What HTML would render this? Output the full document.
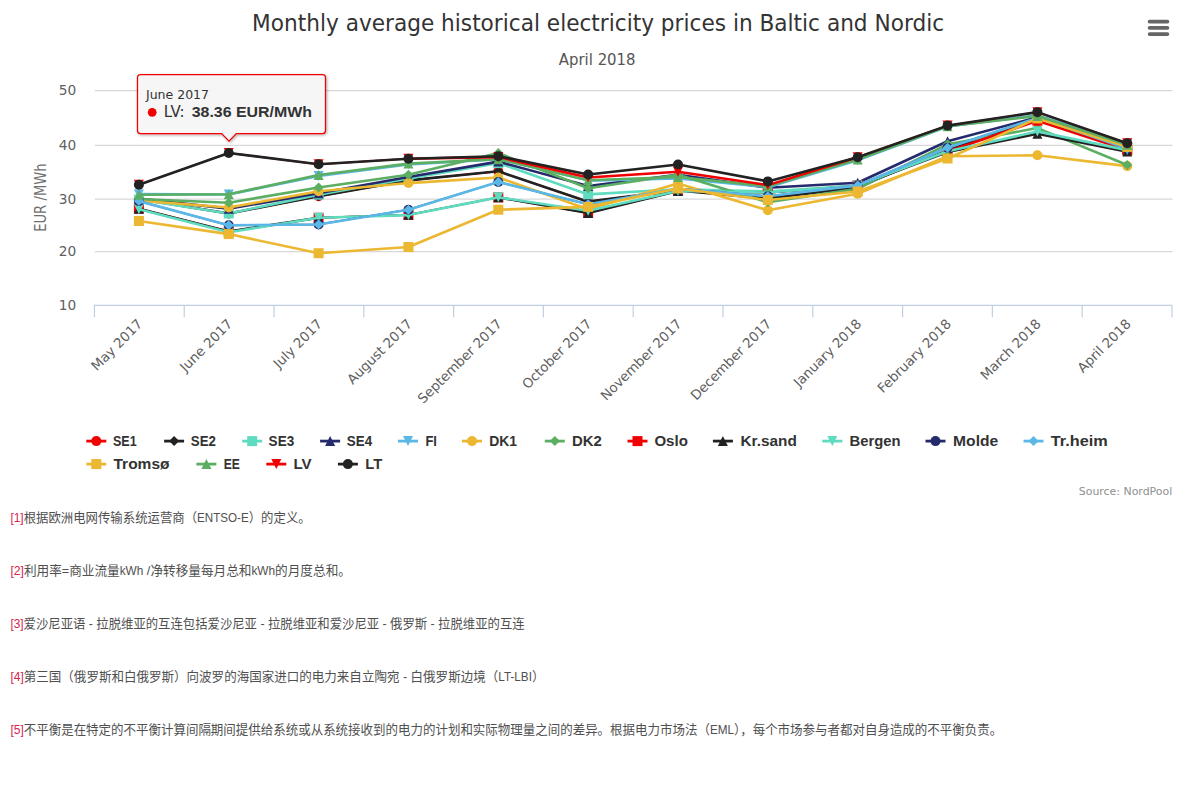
<!DOCTYPE html>
<html lang="zh"><head><meta charset="utf-8"><title>Monthly average historical electricity prices in Baltic and Nordic</title>
<style>html,body{margin:0;padding:0;background:#fff;width:1182px;height:788px;overflow:hidden}</style></head>
<body>
<svg width="1182" height="788" viewBox="0 0 1182 788" style="position:absolute;left:0;top:0;font-family:'DejaVu Sans','Liberation Sans',sans-serif">
<defs><filter id="sh" x="-10%" y="-20%" width="120%" height="150%"><feGaussianBlur in="SourceAlpha" stdDeviation="1.6"/><feOffset dx="1.25" dy="1.25"/><feComponentTransfer><feFuncA type="linear" slope="0.35"/></feComponentTransfer><feMerge><feMergeNode/><feMergeNode in="SourceGraphic"/></feMerge></filter></defs>
<rect width="1182" height="788" fill="#ffffff"/>
<path d="M94.9 90.5L1172.5 90.5" stroke="#d8d8d8" stroke-width="1.25" fill="none"/>
<path d="M94.9 145.3L1172.5 145.3" stroke="#d8d8d8" stroke-width="1.25" fill="none"/>
<path d="M94.9 199.0L1172.5 199.0" stroke="#d8d8d8" stroke-width="1.25" fill="none"/>
<path d="M94.9 251.5L1172.5 251.5" stroke="#d8d8d8" stroke-width="1.25" fill="none"/>
<path d="M93.95 305.45L1172.45 305.45" stroke="#c0d0e0" stroke-width="1.2" fill="none"/>
<path d="M94.45 305.45L94.45 317.3" stroke="#c0d0e0" stroke-width="1.2" fill="none"/>
<path d="M184.24 305.45L184.24 317.3" stroke="#c0d0e0" stroke-width="1.2" fill="none"/>
<path d="M274.03 305.45L274.03 317.3" stroke="#c0d0e0" stroke-width="1.2" fill="none"/>
<path d="M363.82 305.45L363.82 317.3" stroke="#c0d0e0" stroke-width="1.2" fill="none"/>
<path d="M453.62 305.45L453.62 317.3" stroke="#c0d0e0" stroke-width="1.2" fill="none"/>
<path d="M543.41 305.45L543.41 317.3" stroke="#c0d0e0" stroke-width="1.2" fill="none"/>
<path d="M633.20 305.45L633.20 317.3" stroke="#c0d0e0" stroke-width="1.2" fill="none"/>
<path d="M722.99 305.45L722.99 317.3" stroke="#c0d0e0" stroke-width="1.2" fill="none"/>
<path d="M812.78 305.45L812.78 317.3" stroke="#c0d0e0" stroke-width="1.2" fill="none"/>
<path d="M902.58 305.45L902.58 317.3" stroke="#c0d0e0" stroke-width="1.2" fill="none"/>
<path d="M992.37 305.45L992.37 317.3" stroke="#c0d0e0" stroke-width="1.2" fill="none"/>
<path d="M1082.16 305.45L1082.16 317.3" stroke="#c0d0e0" stroke-width="1.2" fill="none"/>
<path d="M1171.95 305.45L1171.95 317.3" stroke="#c0d0e0" stroke-width="1.2" fill="none"/>
<text x="76.2" y="95.3" text-anchor="end" font-size="13.75" fill="#606060">50</text>
<text x="76.2" y="150.1" text-anchor="end" font-size="13.75" fill="#606060">40</text>
<text x="76.2" y="203.8" text-anchor="end" font-size="13.75" fill="#606060">30</text>
<text x="76.2" y="256.3" text-anchor="end" font-size="13.75" fill="#606060">20</text>
<text x="76.2" y="310.1" text-anchor="end" font-size="13.75" fill="#606060">10</text>
<text transform="translate(46.2,197.6) rotate(-90)" text-anchor="middle" font-size="15" fill="#707070" textLength="68.5" lengthAdjust="spacingAndGlyphs">EUR /MWh</text>
<text transform="translate(143.40,324.80) rotate(-45)" text-anchor="end" font-size="13.4" fill="#606060">May 2017</text>
<text transform="translate(233.25,324.80) rotate(-45)" text-anchor="end" font-size="13.4" fill="#606060">June 2017</text>
<text transform="translate(323.10,324.80) rotate(-45)" text-anchor="end" font-size="13.4" fill="#606060">July 2017</text>
<text transform="translate(412.95,324.80) rotate(-45)" text-anchor="end" font-size="13.4" fill="#606060">August 2017</text>
<text transform="translate(502.80,324.80) rotate(-45)" text-anchor="end" font-size="13.4" fill="#606060">September 2017</text>
<text transform="translate(592.65,324.80) rotate(-45)" text-anchor="end" font-size="13.4" fill="#606060">October 2017</text>
<text transform="translate(682.50,324.80) rotate(-45)" text-anchor="end" font-size="13.4" fill="#606060">November 2017</text>
<text transform="translate(772.35,324.80) rotate(-45)" text-anchor="end" font-size="13.4" fill="#606060">December 2017</text>
<text transform="translate(862.20,324.80) rotate(-45)" text-anchor="end" font-size="13.4" fill="#606060">January 2018</text>
<text transform="translate(952.05,324.80) rotate(-45)" text-anchor="end" font-size="13.4" fill="#606060">February 2018</text>
<text transform="translate(1041.90,324.80) rotate(-45)" text-anchor="end" font-size="13.4" fill="#606060">March 2018</text>
<text transform="translate(1131.75,324.80) rotate(-45)" text-anchor="end" font-size="13.4" fill="#606060">April 2018</text>
<text x="598.1" y="30.6" text-anchor="middle" font-size="22.5" fill="#333333" textLength="692" lengthAdjust="spacingAndGlyphs">Monthly average historical electricity prices in Baltic and Nordic</text>
<text x="597.2" y="65.4" text-anchor="middle" font-size="15" fill="#555555" textLength="76.8" lengthAdjust="spacingAndGlyphs">April 2018</text>
<g>
<polyline points="138.90,198.97 228.75,213.47 318.60,196.29 408.45,180.39 498.30,171.32 588.15,201.66 678.00,190.38 767.85,198.44 857.70,187.16 947.55,150.11 1037.40,117.89 1127.25,149.57" fill="none" stroke="#f00000" stroke-width="1.8" stroke-linejoin="round" stroke-linecap="round"/>
<circle cx="138.90" cy="198.97" r="5.0" fill="#f00000"/>
<circle cx="228.75" cy="213.47" r="5.0" fill="#f00000"/>
<circle cx="318.60" cy="196.29" r="5.0" fill="#f00000"/>
<circle cx="408.45" cy="180.39" r="5.0" fill="#f00000"/>
<circle cx="498.30" cy="171.32" r="5.0" fill="#f00000"/>
<circle cx="588.15" cy="201.66" r="5.0" fill="#f00000"/>
<circle cx="678.00" cy="190.38" r="5.0" fill="#f00000"/>
<circle cx="767.85" cy="198.44" r="5.0" fill="#f00000"/>
<circle cx="857.70" cy="187.16" r="5.0" fill="#f00000"/>
<circle cx="947.55" cy="150.11" r="5.0" fill="#f00000"/>
<circle cx="1037.40" cy="117.89" r="5.0" fill="#f00000"/>
<circle cx="1127.25" cy="149.57" r="5.0" fill="#f00000"/>
</g>
<g>
<polyline points="138.90,198.97 228.75,213.47 318.60,196.29 408.45,180.39 498.30,171.32 588.15,201.66 678.00,190.38 767.85,198.44 857.70,187.16 947.55,150.11 1037.40,117.89" fill="none" stroke="#222222" stroke-width="2.6" stroke-linejoin="round" stroke-linecap="round"/>
<polyline points="1037.40,117.89 1127.25,149.57" fill="none" stroke="#222222" stroke-width="1.8" stroke-linejoin="round" stroke-linecap="round"/>
<path d="M138.90 193.97L143.90 198.97L138.90 203.97L133.90 198.97Z" fill="#222222"/>
<path d="M228.75 208.47L233.75 213.47L228.75 218.47L223.75 213.47Z" fill="#222222"/>
<path d="M318.60 191.29L323.60 196.29L318.60 201.29L313.60 196.29Z" fill="#222222"/>
<path d="M408.45 175.39L413.45 180.39L408.45 185.39L403.45 180.39Z" fill="#222222"/>
<path d="M498.30 166.32L503.30 171.32L498.30 176.32L493.30 171.32Z" fill="#222222"/>
<path d="M588.15 196.66L593.15 201.66L588.15 206.66L583.15 201.66Z" fill="#222222"/>
<path d="M678.00 185.38L683.00 190.38L678.00 195.38L673.00 190.38Z" fill="#222222"/>
<path d="M767.85 193.44L772.85 198.44L767.85 203.44L762.85 198.44Z" fill="#222222"/>
<path d="M857.70 182.16L862.70 187.16L857.70 192.16L852.70 187.16Z" fill="#222222"/>
<path d="M947.55 145.11L952.55 150.11L947.55 155.11L942.55 150.11Z" fill="#222222"/>
<path d="M1037.40 112.89L1042.40 117.89L1037.40 122.89L1032.40 117.89Z" fill="#222222"/>
<path d="M1127.25 144.57L1132.25 149.57L1127.25 154.57L1122.25 149.57Z" fill="#222222"/>
</g>
<g>
<polyline points="138.90,199.51 228.75,213.47 318.60,194.68 408.45,178.57 498.30,163.10 588.15,194.41 678.00,189.31 767.85,191.46 857.70,185.55" fill="none" stroke="#5fdcc0" stroke-width="2.6" stroke-linejoin="round" stroke-linecap="round"/>
<polyline points="857.70,185.55 947.55,147.96 1037.40,117.89" fill="none" stroke="#5fdcc0" stroke-width="1.8" stroke-linejoin="round" stroke-linecap="round"/>
<polyline points="1037.40,117.89 1127.25,149.57" fill="none" stroke="#5fdcc0" stroke-width="2.6" stroke-linejoin="round" stroke-linecap="round"/>
<rect x="133.90" y="194.51" width="10.0" height="10.0" fill="#5fdcc0"/>
<rect x="223.75" y="208.47" width="10.0" height="10.0" fill="#5fdcc0"/>
<rect x="313.60" y="189.68" width="10.0" height="10.0" fill="#5fdcc0"/>
<rect x="403.45" y="173.57" width="10.0" height="10.0" fill="#5fdcc0"/>
<rect x="493.30" y="158.10" width="10.0" height="10.0" fill="#5fdcc0"/>
<rect x="583.15" y="189.41" width="10.0" height="10.0" fill="#5fdcc0"/>
<rect x="673.00" y="184.31" width="10.0" height="10.0" fill="#5fdcc0"/>
<rect x="762.85" y="186.46" width="10.0" height="10.0" fill="#5fdcc0"/>
<rect x="852.70" y="180.55" width="10.0" height="10.0" fill="#5fdcc0"/>
<rect x="942.55" y="142.96" width="10.0" height="10.0" fill="#5fdcc0"/>
<rect x="1032.40" y="112.89" width="10.0" height="10.0" fill="#5fdcc0"/>
<rect x="1122.25" y="144.57" width="10.0" height="10.0" fill="#5fdcc0"/>
</g>
<g>
<polyline points="138.90,198.44 228.75,208.64 318.60,193.34 408.45,176.96 498.30,161.60 588.15,186.09 678.00,174.81 767.85,187.70 857.70,182.70 947.55,141.30 1037.40,117.35 1127.25,149.03" fill="none" stroke="#242a6b" stroke-width="2.6" stroke-linejoin="round" stroke-linecap="round"/>
<path d="M138.90 193.44L143.90 203.44L133.90 203.44Z" fill="#242a6b"/>
<path d="M228.75 203.64L233.75 213.64L223.75 213.64Z" fill="#242a6b"/>
<path d="M318.60 188.34L323.60 198.34L313.60 198.34Z" fill="#242a6b"/>
<path d="M408.45 171.96L413.45 181.96L403.45 181.96Z" fill="#242a6b"/>
<path d="M498.30 156.60L503.30 166.60L493.30 166.60Z" fill="#242a6b"/>
<path d="M588.15 181.09L593.15 191.09L583.15 191.09Z" fill="#242a6b"/>
<path d="M678.00 169.81L683.00 179.81L673.00 179.81Z" fill="#242a6b"/>
<path d="M767.85 182.70L772.85 192.70L762.85 192.70Z" fill="#242a6b"/>
<path d="M857.70 177.70L862.70 187.70L852.70 187.70Z" fill="#242a6b"/>
<path d="M947.55 136.30L952.55 146.30L942.55 146.30Z" fill="#242a6b"/>
<path d="M1037.40 112.35L1042.40 122.35L1032.40 122.35Z" fill="#242a6b"/>
<path d="M1127.25 144.03L1132.25 154.03L1122.25 154.03Z" fill="#242a6b"/>
</g>
<g>
<polyline points="138.90,194.14 228.75,194.52 318.60,175.88 408.45,164.34 498.30,159.24" fill="none" stroke="#5bb8e6" stroke-width="2.6" stroke-linejoin="round" stroke-linecap="round"/>
<polyline points="498.30,159.24 588.15,180.72" fill="none" stroke="#5bb8e6" stroke-width="1.8" stroke-linejoin="round" stroke-linecap="round"/>
<polyline points="588.15,180.72 678.00,178.57 767.85,187.16 857.70,160.31 947.55,126.48 1037.40,115.20 1127.25,143.66" fill="none" stroke="#5bb8e6" stroke-width="2.6" stroke-linejoin="round" stroke-linecap="round"/>
<path d="M133.90 189.14L143.90 189.14L138.90 199.14Z" fill="#5bb8e6"/>
<path d="M223.75 189.52L233.75 189.52L228.75 199.52Z" fill="#5bb8e6"/>
<path d="M313.60 170.88L323.60 170.88L318.60 180.88Z" fill="#5bb8e6"/>
<path d="M403.45 159.34L413.45 159.34L408.45 169.34Z" fill="#5bb8e6"/>
<path d="M493.30 154.24L503.30 154.24L498.30 164.24Z" fill="#5bb8e6"/>
<path d="M583.15 175.72L593.15 175.72L588.15 185.72Z" fill="#5bb8e6"/>
<path d="M673.00 173.57L683.00 173.57L678.00 183.57Z" fill="#5bb8e6"/>
<path d="M762.85 182.16L772.85 182.16L767.85 192.16Z" fill="#5bb8e6"/>
<path d="M852.70 155.31L862.70 155.31L857.70 165.31Z" fill="#5bb8e6"/>
<path d="M942.55 121.48L952.55 121.48L947.55 131.48Z" fill="#5bb8e6"/>
<path d="M1032.40 110.20L1042.40 110.20L1037.40 120.20Z" fill="#5bb8e6"/>
<path d="M1122.25 138.66L1132.25 138.66L1127.25 148.66Z" fill="#5bb8e6"/>
</g>
<g>
<polyline points="138.90,200.59 228.75,207.57 318.60,191.19 408.45,183.08 498.30,177.49 588.15,209.18 678.00,183.40 767.85,210.30 857.70,193.71 947.55,156.28 1037.40,155.21 1127.25,166.11" fill="none" stroke="#ecb731" stroke-width="2.6" stroke-linejoin="round" stroke-linecap="round"/>
<circle cx="138.90" cy="200.59" r="5.0" fill="#ecb731"/>
<circle cx="228.75" cy="207.57" r="5.0" fill="#ecb731"/>
<circle cx="318.60" cy="191.19" r="5.0" fill="#ecb731"/>
<circle cx="408.45" cy="183.08" r="5.0" fill="#ecb731"/>
<circle cx="498.30" cy="177.49" r="5.0" fill="#ecb731"/>
<circle cx="588.15" cy="209.18" r="5.0" fill="#ecb731"/>
<circle cx="678.00" cy="183.40" r="5.0" fill="#ecb731"/>
<circle cx="767.85" cy="210.30" r="5.0" fill="#ecb731"/>
<circle cx="857.70" cy="193.71" r="5.0" fill="#ecb731"/>
<circle cx="947.55" cy="156.28" r="5.0" fill="#ecb731"/>
<circle cx="1037.40" cy="155.21" r="5.0" fill="#ecb731"/>
<circle cx="1127.25" cy="166.11" r="5.0" fill="#ecb731"/>
</g>
<g>
<polyline points="138.90,198.97 228.75,202.73 318.60,187.43 408.45,174.81 498.30,153.01 588.15,188.23 678.00,174.81 767.85,202.20 857.70,188.77 947.55,144.31 1037.40,128.09 1127.25,164.98" fill="none" stroke="#5bae62" stroke-width="2.6" stroke-linejoin="round" stroke-linecap="round"/>
<path d="M138.90 193.97L143.90 198.97L138.90 203.97L133.90 198.97Z" fill="#5bae62"/>
<path d="M228.75 197.73L233.75 202.73L228.75 207.73L223.75 202.73Z" fill="#5bae62"/>
<path d="M318.60 182.43L323.60 187.43L318.60 192.43L313.60 187.43Z" fill="#5bae62"/>
<path d="M408.45 169.81L413.45 174.81L408.45 179.81L403.45 174.81Z" fill="#5bae62"/>
<path d="M498.30 148.01L503.30 153.01L498.30 158.01L493.30 153.01Z" fill="#5bae62"/>
<path d="M588.15 183.23L593.15 188.23L588.15 193.23L583.15 188.23Z" fill="#5bae62"/>
<path d="M678.00 169.81L683.00 174.81L678.00 179.81L673.00 174.81Z" fill="#5bae62"/>
<path d="M767.85 197.20L772.85 202.20L767.85 207.20L762.85 202.20Z" fill="#5bae62"/>
<path d="M857.70 183.77L862.70 188.77L857.70 193.77L852.70 188.77Z" fill="#5bae62"/>
<path d="M947.55 139.31L952.55 144.31L947.55 149.31L942.55 144.31Z" fill="#5bae62"/>
<path d="M1037.40 123.09L1042.40 128.09L1037.40 133.09L1032.40 128.09Z" fill="#5bae62"/>
<path d="M1127.25 159.98L1132.25 164.98L1127.25 169.98L1122.25 164.98Z" fill="#5bae62"/>
</g>
<g>
<polyline points="138.90,208.64 228.75,231.46 318.60,217.77 408.45,214.82 498.30,197.36 588.15,212.94 678.00,190.92 767.85,192.80 857.70,185.39 947.55,151.50" fill="none" stroke="#f00000" stroke-width="1.8" stroke-linejoin="round" stroke-linecap="round"/>
<polyline points="947.55,151.50 1037.40,120.73 1127.25,150.11" fill="none" stroke="#f00000" stroke-width="2.6" stroke-linejoin="round" stroke-linecap="round"/>
<rect x="133.90" y="203.64" width="10.0" height="10.0" fill="#f00000"/>
<rect x="223.75" y="226.46" width="10.0" height="10.0" fill="#f00000"/>
<rect x="313.60" y="212.77" width="10.0" height="10.0" fill="#f00000"/>
<rect x="403.45" y="209.82" width="10.0" height="10.0" fill="#f00000"/>
<rect x="493.30" y="192.36" width="10.0" height="10.0" fill="#f00000"/>
<rect x="583.15" y="207.94" width="10.0" height="10.0" fill="#f00000"/>
<rect x="673.00" y="185.92" width="10.0" height="10.0" fill="#f00000"/>
<rect x="762.85" y="187.80" width="10.0" height="10.0" fill="#f00000"/>
<rect x="852.70" y="180.39" width="10.0" height="10.0" fill="#f00000"/>
<rect x="942.55" y="146.50" width="10.0" height="10.0" fill="#f00000"/>
<rect x="1032.40" y="115.73" width="10.0" height="10.0" fill="#f00000"/>
<rect x="1122.25" y="145.11" width="10.0" height="10.0" fill="#f00000"/>
</g>
<g>
<polyline points="138.90,208.64 228.75,231.46 318.60,217.77" fill="none" stroke="#222222" stroke-width="2.6" stroke-linejoin="round" stroke-linecap="round"/>
<polyline points="318.60,217.77 408.45,214.82 498.30,197.36" fill="none" stroke="#222222" stroke-width="1.8" stroke-linejoin="round" stroke-linecap="round"/>
<polyline points="498.30,197.36 588.15,212.94 678.00,190.92" fill="none" stroke="#222222" stroke-width="2.6" stroke-linejoin="round" stroke-linecap="round"/>
<polyline points="678.00,190.92 767.85,192.80 857.70,185.55" fill="none" stroke="#222222" stroke-width="1.8" stroke-linejoin="round" stroke-linecap="round"/>
<polyline points="857.70,185.55 947.55,151.99 1037.40,133.78 1127.25,151.61" fill="none" stroke="#222222" stroke-width="2.6" stroke-linejoin="round" stroke-linecap="round"/>
<path d="M138.90 203.64L143.90 213.64L133.90 213.64Z" fill="#222222"/>
<path d="M228.75 226.46L233.75 236.46L223.75 236.46Z" fill="#222222"/>
<path d="M318.60 212.77L323.60 222.77L313.60 222.77Z" fill="#222222"/>
<path d="M408.45 209.82L413.45 219.82L403.45 219.82Z" fill="#222222"/>
<path d="M498.30 192.36L503.30 202.36L493.30 202.36Z" fill="#222222"/>
<path d="M588.15 207.94L593.15 217.94L583.15 217.94Z" fill="#222222"/>
<path d="M678.00 185.92L683.00 195.92L673.00 195.92Z" fill="#222222"/>
<path d="M767.85 187.80L772.85 197.80L762.85 197.80Z" fill="#222222"/>
<path d="M857.70 180.55L862.70 190.55L852.70 190.55Z" fill="#222222"/>
<path d="M947.55 146.99L952.55 156.99L942.55 156.99Z" fill="#222222"/>
<path d="M1037.40 128.78L1042.40 138.78L1032.40 138.78Z" fill="#222222"/>
<path d="M1127.25 146.61L1132.25 156.61L1122.25 156.61Z" fill="#222222"/>
</g>
<g>
<polyline points="138.90,209.18 228.75,232.27 318.60,217.77 408.45,215.08 498.30,197.36 588.15,210.79 678.00,190.92 767.85,192.53 857.70,185.55 947.55,151.18 1037.40,131.58 1127.25,150.11" fill="none" stroke="#5fdcc0" stroke-width="2.6" stroke-linejoin="round" stroke-linecap="round"/>
<path d="M133.90 204.18L143.90 204.18L138.90 214.18Z" fill="#5fdcc0"/>
<path d="M223.75 227.27L233.75 227.27L228.75 237.27Z" fill="#5fdcc0"/>
<path d="M313.60 212.77L323.60 212.77L318.60 222.77Z" fill="#5fdcc0"/>
<path d="M403.45 210.08L413.45 210.08L408.45 220.08Z" fill="#5fdcc0"/>
<path d="M493.30 192.36L503.30 192.36L498.30 202.36Z" fill="#5fdcc0"/>
<path d="M583.15 205.79L593.15 205.79L588.15 215.79Z" fill="#5fdcc0"/>
<path d="M673.00 185.92L683.00 185.92L678.00 195.92Z" fill="#5fdcc0"/>
<path d="M762.85 187.53L772.85 187.53L767.85 197.53Z" fill="#5fdcc0"/>
<path d="M852.70 180.55L862.70 180.55L857.70 190.55Z" fill="#5fdcc0"/>
<path d="M942.55 146.18L952.55 146.18L947.55 156.18Z" fill="#5fdcc0"/>
<path d="M1032.40 126.58L1042.40 126.58L1037.40 136.58Z" fill="#5fdcc0"/>
<path d="M1122.25 145.11L1132.25 145.11L1127.25 155.11Z" fill="#5fdcc0"/>
</g>
<g>
<polyline points="138.90,201.12 228.75,225.29 318.60,224.48 408.45,209.71 498.30,182.00 588.15,204.34 678.00,188.77 767.85,196.29 857.70,185.39 947.55,147.69 1037.40,117.89 1127.25,148.60" fill="none" stroke="#242a6b" stroke-width="1.8" stroke-linejoin="round" stroke-linecap="round"/>
<circle cx="138.90" cy="201.12" r="5.0" fill="#242a6b"/>
<circle cx="228.75" cy="225.29" r="5.0" fill="#242a6b"/>
<circle cx="318.60" cy="224.48" r="5.0" fill="#242a6b"/>
<circle cx="408.45" cy="209.71" r="5.0" fill="#242a6b"/>
<circle cx="498.30" cy="182.00" r="5.0" fill="#242a6b"/>
<circle cx="588.15" cy="204.34" r="5.0" fill="#242a6b"/>
<circle cx="678.00" cy="188.77" r="5.0" fill="#242a6b"/>
<circle cx="767.85" cy="196.29" r="5.0" fill="#242a6b"/>
<circle cx="857.70" cy="185.39" r="5.0" fill="#242a6b"/>
<circle cx="947.55" cy="147.69" r="5.0" fill="#242a6b"/>
<circle cx="1037.40" cy="117.89" r="5.0" fill="#242a6b"/>
<circle cx="1127.25" cy="148.60" r="5.0" fill="#242a6b"/>
</g>
<g>
<polyline points="138.90,201.12 228.75,225.29 318.60,224.48 408.45,209.71 498.30,182.00 588.15,204.34 678.00,188.77 767.85,196.29 857.70,185.39 947.55,147.69 1037.40,117.89 1127.25,148.60" fill="none" stroke="#5bb8e6" stroke-width="2.6" stroke-linejoin="round" stroke-linecap="round"/>
<path d="M138.90 196.12L143.90 201.12L138.90 206.12L133.90 201.12Z" fill="#5bb8e6"/>
<path d="M228.75 220.29L233.75 225.29L228.75 230.29L223.75 225.29Z" fill="#5bb8e6"/>
<path d="M318.60 219.48L323.60 224.48L318.60 229.48L313.60 224.48Z" fill="#5bb8e6"/>
<path d="M408.45 204.71L413.45 209.71L408.45 214.71L403.45 209.71Z" fill="#5bb8e6"/>
<path d="M498.30 177.00L503.30 182.00L498.30 187.00L493.30 182.00Z" fill="#5bb8e6"/>
<path d="M588.15 199.34L593.15 204.34L588.15 209.34L583.15 204.34Z" fill="#5bb8e6"/>
<path d="M678.00 183.77L683.00 188.77L678.00 193.77L673.00 188.77Z" fill="#5bb8e6"/>
<path d="M767.85 191.29L772.85 196.29L767.85 201.29L762.85 196.29Z" fill="#5bb8e6"/>
<path d="M857.70 180.39L862.70 185.39L857.70 190.39L852.70 185.39Z" fill="#5bb8e6"/>
<path d="M947.55 142.69L952.55 147.69L947.55 152.69L942.55 147.69Z" fill="#5bb8e6"/>
<path d="M1037.40 112.89L1042.40 117.89L1037.40 122.89L1032.40 117.89Z" fill="#5bb8e6"/>
<path d="M1127.25 143.60L1132.25 148.60L1127.25 153.60L1122.25 148.60Z" fill="#5bb8e6"/>
</g>
<g>
<polyline points="138.90,220.99 228.75,234.09 318.60,253.21 408.45,247.04 498.30,209.71 588.15,206.87 678.00,188.50 767.85,200.05 857.70,191.46 947.55,158.48 1037.40,118.42 1127.25,146.88" fill="none" stroke="#ecb731" stroke-width="2.6" stroke-linejoin="round" stroke-linecap="round"/>
<rect x="133.90" y="215.99" width="10.0" height="10.0" fill="#ecb731"/>
<rect x="223.75" y="229.09" width="10.0" height="10.0" fill="#ecb731"/>
<rect x="313.60" y="248.21" width="10.0" height="10.0" fill="#ecb731"/>
<rect x="403.45" y="242.04" width="10.0" height="10.0" fill="#ecb731"/>
<rect x="493.30" y="204.71" width="10.0" height="10.0" fill="#ecb731"/>
<rect x="583.15" y="201.87" width="10.0" height="10.0" fill="#ecb731"/>
<rect x="673.00" y="183.50" width="10.0" height="10.0" fill="#ecb731"/>
<rect x="762.85" y="195.05" width="10.0" height="10.0" fill="#ecb731"/>
<rect x="852.70" y="186.46" width="10.0" height="10.0" fill="#ecb731"/>
<rect x="942.55" y="153.48" width="10.0" height="10.0" fill="#ecb731"/>
<rect x="1032.40" y="113.42" width="10.0" height="10.0" fill="#ecb731"/>
<rect x="1122.25" y="141.88" width="10.0" height="10.0" fill="#ecb731"/>
</g>
<g>
<polyline points="138.90,194.68 228.75,194.19 318.60,175.08 408.45,163.59 498.30,159.24 588.15,180.29 678.00,176.96 767.85,186.30 857.70,159.61 947.55,126.32 1037.40,116.01 1127.25,144.74" fill="none" stroke="#5bae62" stroke-width="2.6" stroke-linejoin="round" stroke-linecap="round"/>
<path d="M138.90 189.68L143.90 199.68L133.90 199.68Z" fill="#5bae62"/>
<path d="M228.75 189.19L233.75 199.19L223.75 199.19Z" fill="#5bae62"/>
<path d="M318.60 170.08L323.60 180.08L313.60 180.08Z" fill="#5bae62"/>
<path d="M408.45 158.59L413.45 168.59L403.45 168.59Z" fill="#5bae62"/>
<path d="M498.30 154.24L503.30 164.24L493.30 164.24Z" fill="#5bae62"/>
<path d="M588.15 175.29L593.15 185.29L583.15 185.29Z" fill="#5bae62"/>
<path d="M678.00 171.96L683.00 181.96L673.00 181.96Z" fill="#5bae62"/>
<path d="M767.85 181.30L772.85 191.30L762.85 191.30Z" fill="#5bae62"/>
<path d="M857.70 154.61L862.70 164.61L852.70 164.61Z" fill="#5bae62"/>
<path d="M947.55 121.32L952.55 131.32L942.55 131.32Z" fill="#5bae62"/>
<path d="M1037.40 111.01L1042.40 121.01L1032.40 121.01Z" fill="#5bae62"/>
<path d="M1127.25 139.74L1132.25 149.74L1122.25 149.74Z" fill="#5bae62"/>
</g>
<g>
<polyline points="138.90,184.74 228.75,153.01 318.60,164.28 408.45,158.70" fill="none" stroke="#f00000" stroke-width="1.8" stroke-linejoin="round" stroke-linecap="round"/>
<polyline points="408.45,158.70 498.30,157.09 588.15,177.49 678.00,171.69 767.85,185.12 857.70,157.20" fill="none" stroke="#f00000" stroke-width="2.6" stroke-linejoin="round" stroke-linecap="round"/>
<polyline points="857.70,157.20 947.55,125.62 1037.40,112.14 1127.25,143.29" fill="none" stroke="#f00000" stroke-width="1.8" stroke-linejoin="round" stroke-linecap="round"/>
<path d="M133.90 179.74L143.90 179.74L138.90 189.74Z" fill="#f00000"/>
<path d="M223.75 148.01L233.75 148.01L228.75 158.01Z" fill="#f00000"/>
<path d="M313.60 159.28L323.60 159.28L318.60 169.28Z" fill="#f00000"/>
<path d="M403.45 153.70L413.45 153.70L408.45 163.70Z" fill="#f00000"/>
<path d="M493.30 152.09L503.30 152.09L498.30 162.09Z" fill="#f00000"/>
<path d="M583.15 172.49L593.15 172.49L588.15 182.49Z" fill="#f00000"/>
<path d="M673.00 166.69L683.00 166.69L678.00 176.69Z" fill="#f00000"/>
<path d="M762.85 180.12L772.85 180.12L767.85 190.12Z" fill="#f00000"/>
<path d="M852.70 152.20L862.70 152.20L857.70 162.20Z" fill="#f00000"/>
<path d="M942.55 120.62L952.55 120.62L947.55 130.62Z" fill="#f00000"/>
<path d="M1032.40 107.14L1042.40 107.14L1037.40 117.14Z" fill="#f00000"/>
<path d="M1122.25 138.29L1132.25 138.29L1127.25 148.29Z" fill="#f00000"/>
</g>
<g>
<polyline points="138.90,184.74 228.75,153.01 318.60,164.28 408.45,158.70 498.30,156.18 588.15,174.49 678.00,164.50 767.85,181.41 857.70,157.20 947.55,125.62 1037.40,112.14 1127.25,143.29" fill="none" stroke="#222222" stroke-width="2.6" stroke-linejoin="round" stroke-linecap="round"/>
<circle cx="138.90" cy="184.74" r="5.0" fill="#222222"/>
<circle cx="228.75" cy="153.01" r="5.0" fill="#222222"/>
<circle cx="318.60" cy="164.28" r="5.0" fill="#222222"/>
<circle cx="408.45" cy="158.70" r="5.0" fill="#222222"/>
<circle cx="498.30" cy="156.18" r="5.0" fill="#222222"/>
<circle cx="588.15" cy="174.49" r="5.0" fill="#222222"/>
<circle cx="678.00" cy="164.50" r="5.0" fill="#222222"/>
<circle cx="767.85" cy="181.41" r="5.0" fill="#222222"/>
<circle cx="857.70" cy="157.20" r="5.0" fill="#222222"/>
<circle cx="947.55" cy="125.62" r="5.0" fill="#222222"/>
<circle cx="1037.40" cy="112.14" r="5.0" fill="#222222"/>
<circle cx="1127.25" cy="143.29" r="5.0" fill="#222222"/>
</g>
<path d="M1149.6 21.6L1167.4 21.6" stroke="#666666" stroke-width="3.75" stroke-linecap="round"/>
<path d="M1149.6 27.85L1167.4 27.85" stroke="#666666" stroke-width="3.75" stroke-linecap="round"/>
<path d="M1149.6 34.1L1167.4 34.1" stroke="#666666" stroke-width="3.75" stroke-linecap="round"/>
<path d="M86.3 441.1L106.3 441.1" stroke="#f00000" stroke-width="2.8" fill="none"/>
<circle cx="96.30" cy="441.10" r="5.0" fill="#f00000"/>
<text x="113.0" y="445.8" font-size="15" font-weight="bold" font-family="'Liberation Sans','DejaVu Sans',sans-serif" fill="#333333" textLength="23.7" lengthAdjust="spacingAndGlyphs">SE1</text>
<path d="M164.1 441.1L184.1 441.1" stroke="#222222" stroke-width="2.8" fill="none"/>
<path d="M174.10 436.10L179.10 441.10L174.10 446.10L169.10 441.10Z" fill="#222222"/>
<text x="190.8" y="445.8" font-size="15" font-weight="bold" font-family="'Liberation Sans','DejaVu Sans',sans-serif" fill="#333333" textLength="25.1" lengthAdjust="spacingAndGlyphs">SE2</text>
<path d="M242.2 441.1L262.2 441.1" stroke="#5fdcc0" stroke-width="2.8" fill="none"/>
<rect x="247.20" y="436.10" width="10.0" height="10.0" fill="#5fdcc0"/>
<text x="268.6" y="445.8" font-size="15" font-weight="bold" font-family="'Liberation Sans','DejaVu Sans',sans-serif" fill="#333333" textLength="25.6" lengthAdjust="spacingAndGlyphs">SE3</text>
<path d="M320.1 441.1L340.1 441.1" stroke="#242a6b" stroke-width="2.8" fill="none"/>
<path d="M330.10 436.10L335.10 446.10L325.10 446.10Z" fill="#242a6b"/>
<text x="346.8" y="445.8" font-size="15" font-weight="bold" font-family="'Liberation Sans','DejaVu Sans',sans-serif" fill="#333333" textLength="25.3" lengthAdjust="spacingAndGlyphs">SE4</text>
<path d="M398.0 441.1L418.0 441.1" stroke="#5bb8e6" stroke-width="2.8" fill="none"/>
<path d="M403.00 436.10L413.00 436.10L408.00 446.10Z" fill="#5bb8e6"/>
<text x="425.4" y="445.8" font-size="15" font-weight="bold" font-family="'Liberation Sans','DejaVu Sans',sans-serif" fill="#333333" textLength="11.5" lengthAdjust="spacingAndGlyphs">FI</text>
<path d="M462.0 441.1L482.0 441.1" stroke="#ecb731" stroke-width="2.8" fill="none"/>
<circle cx="472.00" cy="441.10" r="5.0" fill="#ecb731"/>
<text x="489.2" y="445.8" font-size="15" font-weight="bold" font-family="'Liberation Sans','DejaVu Sans',sans-serif" fill="#333333" textLength="27.8" lengthAdjust="spacingAndGlyphs">DK1</text>
<path d="M544.8 441.1L564.8 441.1" stroke="#5bae62" stroke-width="2.8" fill="none"/>
<path d="M554.80 436.10L559.80 441.10L554.80 446.10L549.80 441.10Z" fill="#5bae62"/>
<text x="572.0" y="445.8" font-size="15" font-weight="bold" font-family="'Liberation Sans','DejaVu Sans',sans-serif" fill="#333333" textLength="29.8" lengthAdjust="spacingAndGlyphs">DK2</text>
<path d="M627.5 441.1L647.5 441.1" stroke="#f00000" stroke-width="2.8" fill="none"/>
<rect x="632.50" y="436.10" width="10.0" height="10.0" fill="#f00000"/>
<text x="654.4" y="445.8" font-size="15" font-weight="bold" font-family="'Liberation Sans','DejaVu Sans',sans-serif" fill="#333333" textLength="33.5" lengthAdjust="spacingAndGlyphs">Oslo</text>
<path d="M712.9 441.1L732.9 441.1" stroke="#222222" stroke-width="2.8" fill="none"/>
<path d="M722.90 436.10L727.90 446.10L717.90 446.10Z" fill="#222222"/>
<text x="740.5" y="445.8" font-size="15" font-weight="bold" font-family="'Liberation Sans','DejaVu Sans',sans-serif" fill="#333333" textLength="56.3" lengthAdjust="spacingAndGlyphs">Kr.sand</text>
<path d="M822.3 441.1L842.3 441.1" stroke="#5fdcc0" stroke-width="2.8" fill="none"/>
<path d="M827.30 436.10L837.30 436.10L832.30 446.10Z" fill="#5fdcc0"/>
<text x="849.5" y="445.8" font-size="15" font-weight="bold" font-family="'Liberation Sans','DejaVu Sans',sans-serif" fill="#333333" textLength="51" lengthAdjust="spacingAndGlyphs">Bergen</text>
<path d="M925.5 441.1L945.5 441.1" stroke="#242a6b" stroke-width="2.8" fill="none"/>
<circle cx="935.50" cy="441.10" r="5.0" fill="#242a6b"/>
<text x="953.1" y="445.8" font-size="15" font-weight="bold" font-family="'Liberation Sans','DejaVu Sans',sans-serif" fill="#333333" textLength="45.1" lengthAdjust="spacingAndGlyphs">Molde</text>
<path d="M1023.5 441.1L1043.5 441.1" stroke="#5bb8e6" stroke-width="2.8" fill="none"/>
<path d="M1033.50 436.10L1038.50 441.10L1033.50 446.10L1028.50 441.10Z" fill="#5bb8e6"/>
<text x="1050.7" y="445.8" font-size="15" font-weight="bold" font-family="'Liberation Sans','DejaVu Sans',sans-serif" fill="#333333" textLength="57" lengthAdjust="spacingAndGlyphs">Tr.heim</text>
<path d="M86.3 464.1L106.3 464.1" stroke="#ecb731" stroke-width="2.8" fill="none"/>
<rect x="91.30" y="459.10" width="10.0" height="10.0" fill="#ecb731"/>
<text x="113.5" y="468.8" font-size="15" font-weight="bold" font-family="'Liberation Sans','DejaVu Sans',sans-serif" fill="#333333" textLength="56" lengthAdjust="spacingAndGlyphs">Tromsø</text>
<path d="M196.4 464.1L216.4 464.1" stroke="#5bae62" stroke-width="2.8" fill="none"/>
<path d="M206.40 459.10L211.40 469.10L201.40 469.10Z" fill="#5bae62"/>
<text x="223.8" y="468.8" font-size="15" font-weight="bold" font-family="'Liberation Sans','DejaVu Sans',sans-serif" fill="#333333" textLength="16.1" lengthAdjust="spacingAndGlyphs">EE</text>
<path d="M266.3 464.1L286.3 464.1" stroke="#f00000" stroke-width="2.8" fill="none"/>
<path d="M271.30 459.10L281.30 459.10L276.30 469.10Z" fill="#f00000"/>
<text x="293.5" y="468.8" font-size="15" font-weight="bold" font-family="'Liberation Sans','DejaVu Sans',sans-serif" fill="#333333" textLength="18.2" lengthAdjust="spacingAndGlyphs">LV</text>
<path d="M337.9 464.1L357.9 464.1" stroke="#222222" stroke-width="2.8" fill="none"/>
<circle cx="347.90" cy="464.10" r="5.0" fill="#222222"/>
<text x="365.3" y="468.8" font-size="15" font-weight="bold" font-family="'Liberation Sans','DejaVu Sans',sans-serif" fill="#333333" textLength="17" lengthAdjust="spacingAndGlyphs">LT</text>
<text x="1172.2" y="494.6" text-anchor="end" font-size="11.25" fill="#909090" textLength="93.4" lengthAdjust="spacingAndGlyphs">Source: NordPool</text>
<g filter="url(#sh)"><path d="M140.5 74.5L322.5 74.5Q325.5 74.5 325.5 77.5L325.5 130.5Q325.5 133.5 322.5 133.5L236.3 133.5L229 141.2L221.7 133.5L140.5 133.5Q137.5 133.5 137.5 130.5L137.5 77.5Q137.5 74.5 140.5 74.5Z" fill="rgba(249,249,249,0.9)" stroke="#f00000" stroke-width="1.25"/></g>
<text x="146" y="99" font-size="12.5" fill="#333333">June 2017</text>
<circle cx="152.2" cy="112.3" r="4.4" fill="#f00000"/>
<text x="163.8" y="116.8" font-size="15" fill="#333333">LV: </text>
<text x="191.7" y="116.8" font-size="15" font-weight="bold" font-family="'Liberation Sans','DejaVu Sans',sans-serif" fill="#333333" textLength="120.3" lengthAdjust="spacingAndGlyphs">38.36 EUR/MWh</text>
<text class="note" x="10.4" y="521.90" font-size="13" font-family="'Liberation Sans','Noto Sans CJK SC',sans-serif" fill="#505050" textLength="300.3" lengthAdjust="spacingAndGlyphs"><tspan fill="#d6244f" font-size="12.5">[1]</tspan>根据欧洲电网传输系统运营商（<tspan font-size="12.2">ENTSO-E</tspan>）的定义。</text>
<text class="note" x="10.4" y="574.80" font-size="13" font-family="'Liberation Sans','Noto Sans CJK SC',sans-serif" fill="#505050" textLength="340.5" lengthAdjust="spacingAndGlyphs"><tspan fill="#d6244f" font-size="12.5">[2]</tspan>利用率=商业流量<tspan font-size="12.2">kWh</tspan> /净转移量每月总和<tspan font-size="12.2">kWh</tspan>的月度总和。</text>
<text class="note" x="10.4" y="627.70" font-size="13" font-family="'Liberation Sans','Noto Sans CJK SC',sans-serif" fill="#505050" textLength="514.2" lengthAdjust="spacingAndGlyphs"><tspan fill="#d6244f" font-size="12.5">[3]</tspan>爱沙尼亚语 - 拉脱维亚的互连包括爱沙尼亚 - 拉脱维亚和爱沙尼亚 - 俄罗斯 - 拉脱维亚的互连</text>
<text class="note" x="10.4" y="680.60" font-size="13" font-family="'Liberation Sans','Noto Sans CJK SC',sans-serif" fill="#505050" textLength="534.1" lengthAdjust="spacingAndGlyphs"><tspan fill="#d6244f" font-size="12.5">[4]</tspan>第三国（俄罗斯和白俄罗斯）向波罗的海国家进口的电力来自立陶宛 - 白俄罗斯边境（<tspan font-size="12.2">LT-LBI</tspan>）</text>
<text class="note" x="10.4" y="733.50" font-size="13" font-family="'Liberation Sans','Noto Sans CJK SC',sans-serif" fill="#505050" textLength="991.8" lengthAdjust="spacingAndGlyphs"><tspan fill="#d6244f" font-size="12.5">[5]</tspan>不平衡是在特定的不平衡计算间隔期间提供给系统或从系统接收到的电力的计划和实际物理量之间的差异。根据电力市场法（<tspan font-size="12.2">EML</tspan>），每个市场参与者都对自身造成的不平衡负责。</text>
</svg>
</body></html>
